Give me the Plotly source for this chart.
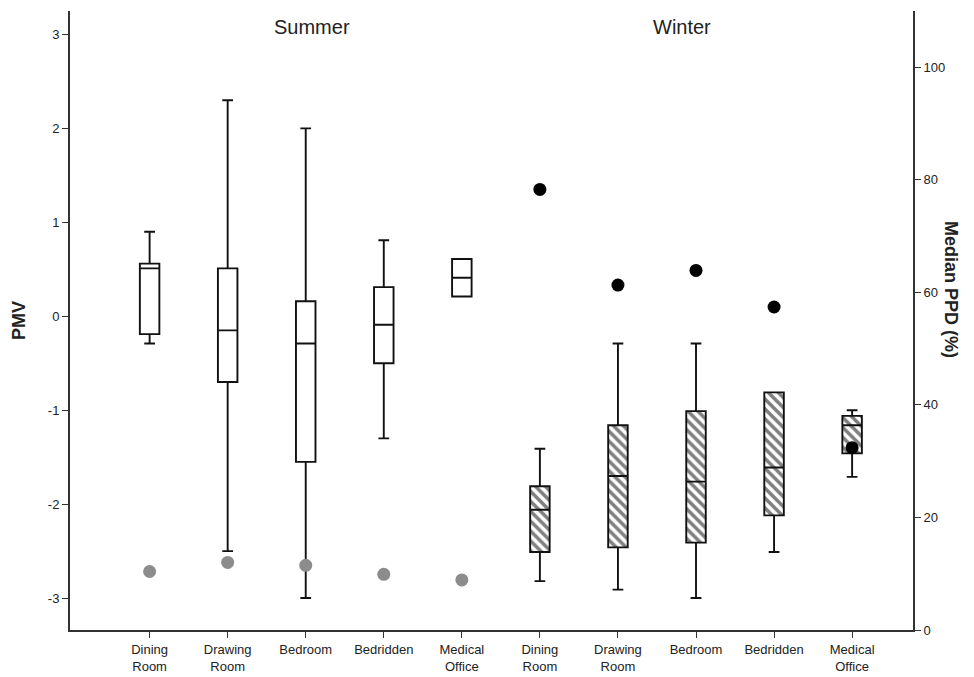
import plotly.graph_objects as go

# Categories
rooms = ["Dining<br>Room", "Drawing<br>Room", "Bedroom", "Bedridden", "Medical<br>Office"]
tick_labels = rooms + rooms
summer_x = [0, 1, 2, 3, 4]
winter_x = [5, 6, 7, 8, 9]

# Axis ticks
pmv_ticks = [-3, -2, -1, 0, 1, 2, 3]
pmv_tick_text = ["-3", "-2", "-1", "0", "1", "2", "3"]
ppd_ticks = [0, 20, 40, 60, 80, 100]

# Summer PMV box statistics
summer_lower = [-0.29, -2.50, -3.00, -1.30, 0.21]
summer_q1 = [-0.19, -0.70, -1.55, -0.50, 0.21]
summer_median = [0.51, -0.15, -0.29, -0.09, 0.41]
summer_q3 = [0.56, 0.51, 0.16, 0.31, 0.61]
summer_upper = [0.90, 2.30, 2.00, 0.81, 0.61]

# Winter PMV box statistics
winter_lower = [-2.82, -2.91, -3.00, -2.51, -1.71]
winter_q1 = [-2.51, -2.46, -2.41, -2.12, -1.46]
winter_median = [-2.06, -1.70, -1.76, -1.61, -1.16]
winter_q3 = [-1.81, -1.16, -1.01, -0.81, -1.06]
winter_upper = [-1.41, -0.29, -0.29, -0.81, -1.00]

# Median PPD (%)
summer_ppd = [10.4, 12.0, 11.5, 9.9, 8.9]
winter_ppd = [78.3, 61.3, 63.9, 57.4, 32.4]

FONT = "Liberation Sans, Arial, sans-serif"
TXT = "#222222"
BOXW = 0.25

fig = go.Figure()

# hatched fill for winter boxes
fig.add_trace(go.Bar(
    x=winter_x,
    base=winter_q1,
    y=[q3 - q1 for q1, q3 in zip(winter_q1, winter_q3)],
    width=BOXW,
    marker=dict(color="white", line=dict(width=0),
                pattern=dict(shape="\\", fgcolor="#000000", bgcolor="white",
                             size=7, solidity=0.5)),
    showlegend=False, hoverinfo="skip",
))

fig.add_trace(go.Box(
    x=summer_x, q1=summer_q1, median=summer_median, q3=summer_q3,
    lowerfence=summer_lower, upperfence=summer_upper,
    width=BOXW, whiskerwidth=0.55,
    fillcolor="white", line=dict(color="#111111", width=1.9),
    showlegend=False, boxpoints=False,
))

fig.add_trace(go.Box(
    x=winter_x, q1=winter_q1, median=winter_median, q3=winter_q3,
    lowerfence=winter_lower, upperfence=winter_upper,
    width=BOXW, whiskerwidth=0.55,
    fillcolor="rgba(0,0,0,0)", line=dict(color="#111111", width=1.9),
    showlegend=False, boxpoints=False,
))

fig.add_trace(go.Scatter(
    x=summer_x, y=summer_ppd, yaxis="y2", mode="markers",
    marker=dict(color="#8c8c8c", size=13), showlegend=False,
))
fig.add_trace(go.Scatter(
    x=winter_x, y=winter_ppd, yaxis="y2", mode="markers",
    marker=dict(color="#000000", size=13), showlegend=False,
))

fig.update_layout(
    width=966, height=669,
    margin=dict(l=62, r=61, t=3, b=39),
    paper_bgcolor="white", plot_bgcolor="white",
    font=dict(family=FONT, color=TXT, size=13),
    barmode="overlay",
    xaxis=dict(
        range=[-1.02, 9.78], tickmode="array", tickvals=list(range(10)),
        ticktext=tick_labels, showgrid=False, zeroline=False,
        showline=True, linecolor="#333333", linewidth=2,
        ticks="outside", ticklen=6, tickcolor="#333333",
        tickfont=dict(size=13, color=TXT),
    ),
    yaxis=dict(
        range=[-3.34, 3.25], tickmode="array", tickvals=pmv_ticks,
        ticktext=pmv_tick_text,
        showgrid=False, zeroline=False,
        showline=True, linecolor="#333333", linewidth=2,
        ticks="outside", ticklen=6, tickcolor="#333333",
        tickfont=dict(size=13, color=TXT),
        title=dict(text="<b>PMV</b>", font=dict(size=18, color=TXT), standoff=18),
    ),
    yaxis2=dict(
        overlaying="y", side="right", range=[0, 110],
        tickmode="array", tickvals=ppd_ticks,
        showgrid=False, zeroline=False,
        showline=True, linecolor="#333333", linewidth=2,
        ticks="outside", ticklen=6, tickcolor="#333333",
        tickfont=dict(size=13, color=TXT),
    ),
    annotations=[
        dict(text="Summer", x=2.08, y=3.08, xref="x", yref="y", showarrow=False,
             font=dict(size=20, color=TXT)),
        dict(text="Winter", x=6.82, y=3.08, xref="x", yref="y", showarrow=False,
             font=dict(size=20, color=TXT)),
        dict(text="<b>Median PPD (%)</b>", x=1.06, y=0.55, xref="paper", yref="paper",
             showarrow=False, textangle=90, font=dict(size=18, color=TXT)),
    ],
)

fig.write_html("out.html")
